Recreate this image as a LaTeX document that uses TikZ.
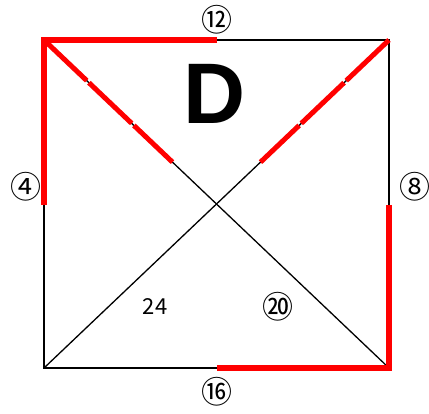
\documentclass[tikz,border=0pt]{standalone}
\usepackage{fontspec}
\setmainfont{Liberation Sans}
\newfontfamily\jpfont{Noto Sans CJK JP}
\usetikzlibrary{positioning,calc}

\begin{document}
\begin{tikzpicture}[x=1pt, y=-1pt,
  every node/.style={inner sep=0pt, font=\jpfont\fontsize{22}{22}\selectfont},
  circnum/.style={font=\jpfont\fontsize{31}{31}\selectfont},
  side/.style={line width=1.8pt},
  diag/.style={line width=1.3pt},
  redline/.style={red, line width=6.5pt, line join=miter},
  reddash/.style={red, line width=5pt, dash pattern=on 59pt off 3pt}]
\useasboundingbox (0,0) rectangle (429,414);

\coordinate (a) at (44,40);
\coordinate (b) at (389,40);
\coordinate (c) at (389,368);
\coordinate (d) at (44,368);
\coordinate (o) at (216.5,204);
\coordinate (ta) at (217,40);
\coordinate (tc) at (217,368);
\coordinate (la) at (44,205);
\coordinate (lc) at (389,205);

% square and diagonals
\draw[side] (a) -- (b) -- (c) -- (d) -- cycle;
\draw[diag] (a) -- (c);
\draw[diag] (b) -- (d);

% red parts
\draw[redline] (ta) -- (a) -- (la);
\draw[redline] (tc) -- (c) -- (lc);
\draw[reddash] (a) -- ($(a)!0.745!(o)$);
\draw[reddash] (b) -- ($(b)!0.745!(o)$);

% labels
\node[circnum] (n12) at (217,20) {⑫};
\node[circnum] (n4) at (26,187) {④};
\node[circnum] (n8) at (415,187) {⑧};
\node[circnum] (n16) at (217,392) {⑯};
\node (n24) at (155,307) {24};
\node[circnum] (n20) at (278,307) {⑳};
\node[font=\bfseries\fontsize{86}{86}\selectfont] (lbl) at (215,94) {D};
\end{tikzpicture}
\end{document}
